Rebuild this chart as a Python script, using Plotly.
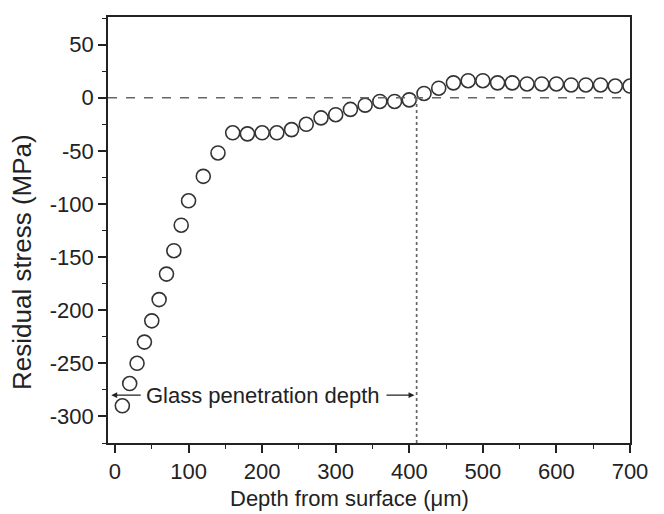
import plotly.graph_objects as go

depth = [10, 20, 30, 40, 50, 60, 70, 80, 90, 100,
         120, 140, 160, 180, 200, 220, 240, 260, 280, 300,
         320, 340, 360, 380, 400, 420, 440, 460, 480, 500,
         520, 540, 560, 580, 600, 620, 640, 660, 680, 700]
stress = [-290, -269, -250, -230, -210, -190, -166, -144, -120, -97,
          -74, -52, -33, -34, -33, -33, -30, -25, -19, -16,
          -11, -7, -3.5, -3.5, -2, 4, 9, 14, 16, 16,
          14, 14, 13, 13, 13, 12, 12, 12, 11, 11]
x_ticks = [0, 100, 200, 300, 400, 500, 600, 700]
y_ticks = [50, 0, -50, -100, -150, -200, -250, -300]
y_tick_text = ["50", "0", "-50", "-100", "-150", "-200", "-250", "-300"]
penetration_depth = 410
label_y = -280

FONT = "Arial, Liberation Sans, sans-serif"
INK = "#222222"

# plot area in pixels
L, R, T, B = 108, 34, 17, 71
W, H = 664, 514
PW, PH = W - L - R, H - T - B


def px_x(p):
    return (p - L) / PW


def px_y(p):
    return 1 - (p - T) / PH


fig = go.Figure()
fig.add_trace(go.Scatter(
    x=depth, y=stress, mode="markers",
    marker=dict(symbol="circle-open", size=14, color="#333333",
                line=dict(width=1.6, color="#333333")),
    showlegend=False, cliponaxis=True,
))

# zero line (dashed)
fig.add_shape(type="line", xref="paper", yref="y", x0=0, x1=1, y0=0, y1=0,
              line=dict(color="#666666", width=1.6, dash="dash"))
# penetration depth (dotted)
fig.add_shape(type="line", xref="x", yref="y", x0=penetration_depth,
              x1=penetration_depth, y0=-325, y1=0,
              line=dict(color="#666666", width=1.7, dash="dot"))

fig.add_annotation(x=-5, y=label_y, ax=37, ay=label_y, axref="x", ayref="y",
                   xref="x", yref="y", text="", showarrow=True,
                   arrowhead=2, arrowsize=0.9, arrowwidth=1.3, arrowcolor=INK)
fig.add_annotation(x=penetration_depth - 3, y=label_y, ax=367, ay=label_y,
                   axref="x", ayref="y", xref="x", yref="y", text="",
                   showarrow=True, arrowhead=2, arrowsize=0.9,
                   arrowwidth=1.3, arrowcolor=INK)
fig.add_annotation(x=201, y=label_y, xref="x", yref="y",
                   text="Glass penetration depth", showarrow=False,
                   font=dict(family=FONT, size=22, color=INK))

# axis titles
fig.add_annotation(x=px_x(349), y=px_y(498), xref="paper", yref="paper",
                   xanchor="center", yanchor="middle",
                   text="Depth from surface (\u03bcm)", showarrow=False,
                   font=dict(family=FONT, size=22, color=INK))
fig.add_annotation(x=px_x(22), y=px_y(262), xref="paper", yref="paper",
                   xanchor="center", yanchor="middle",
                   text="Residual stress (MPa)", showarrow=False, textangle=-90,
                   font=dict(family=FONT, size=26, color=INK))

axis_common = dict(showgrid=False, zeroline=False, showline=True,
                   linecolor=INK, linewidth=1.8, mirror=True,
                   ticks="outside", ticklen=8, tickwidth=1.6, tickcolor=INK,
                   tickfont=dict(family=FONT, size=22, color=INK))

fig.update_layout(
    width=W, height=H,
    margin=dict(l=L, r=R, t=T, b=B),
    paper_bgcolor="white", plot_bgcolor="white",
    xaxis=dict(range=[-9.5, 700], tickmode="array", tickvals=x_ticks,
               minor=dict(dtick=50, tick0=0, ticks="outside", ticklen=4,
                          tickwidth=1.4, tickcolor=INK),
               **axis_common),
    yaxis=dict(range=[-325, 76], tickmode="array", tickvals=y_ticks,
               ticktext=y_tick_text,
               minor=dict(dtick=25, tick0=0, ticks="outside", ticklen=4,
                          tickwidth=1.4, tickcolor=INK),
               **axis_common),
)

fig.write_html("out.html")
